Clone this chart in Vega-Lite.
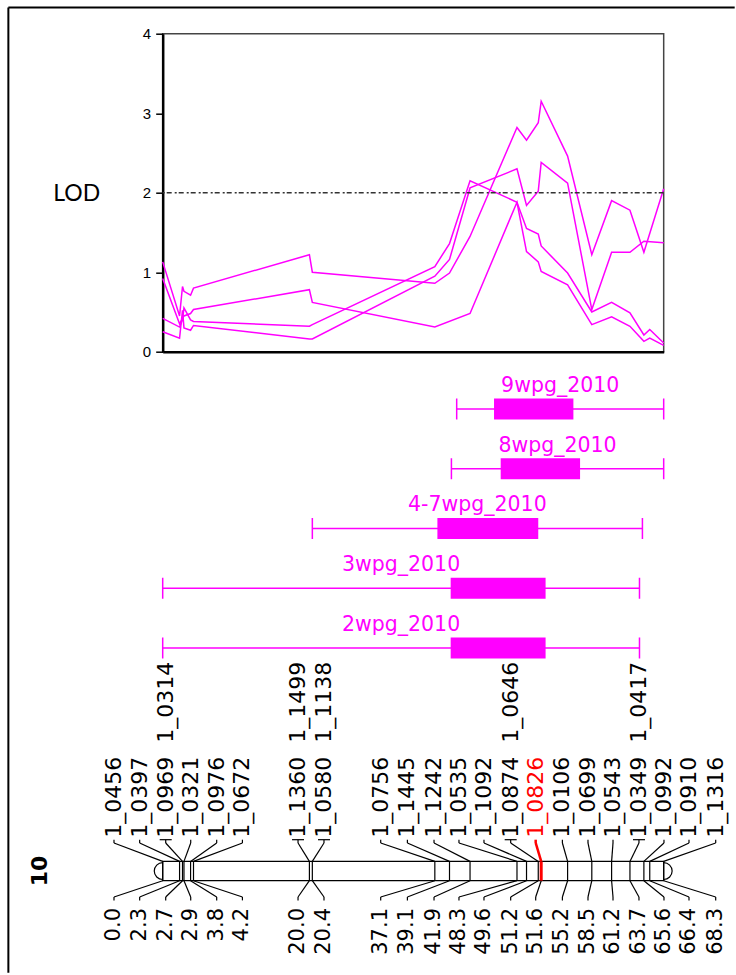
{
  "$schema": "https://vega.github.io/schema/vega-lite/v6.json",
  "padding": {"left": 5.7, "top": 5.7, "right": 0, "bottom": 0},
  "background": "white",
  "bounds": "flush",
  "spacing": 0,
  "config": {"view": {"stroke": null}, "font": "DejaVu Sans"},
  "resolve": {"scale": {"x": "independent", "y": "independent"}},
  "datasets": {
    "lod": [
      {"trait": "9wpg_2010", "pos": 0.0, "lod": 1.13}, {"trait": "9wpg_2010", "pos": 2.3, "lod": 0.45}, {"trait": "9wpg_2010", "pos": 2.7, "lod": 0.82}, {"trait": "9wpg_2010", "pos": 2.9, "lod": 0.76}, {"trait": "9wpg_2010", "pos": 3.8, "lod": 0.71}, {"trait": "9wpg_2010", "pos": 4.2, "lod": 0.80}, {"trait": "9wpg_2010", "pos": 20.0, "lod": 1.22}, {"trait": "9wpg_2010", "pos": 20.4, "lod": 1.00}, {"trait": "9wpg_2010", "pos": 37.1, "lod": 0.86}, {"trait": "9wpg_2010", "pos": 39.1, "lod": 0.99}, {"trait": "9wpg_2010", "pos": 41.9, "lod": 1.45}, {"trait": "9wpg_2010", "pos": 48.3, "lod": 2.82}, {"trait": "9wpg_2010", "pos": 49.6, "lod": 2.66}, {"trait": "9wpg_2010", "pos": 51.2, "lod": 2.88}, {"trait": "9wpg_2010", "pos": 51.6, "lod": 3.15}, {"trait": "9wpg_2010", "pos": 55.2, "lod": 2.46}, {"trait": "9wpg_2010", "pos": 58.5, "lod": 1.22}, {"trait": "9wpg_2010", "pos": 61.2, "lod": 1.90}, {"trait": "9wpg_2010", "pos": 63.7, "lod": 1.78}, {"trait": "9wpg_2010", "pos": 65.6, "lod": 1.25}, {"trait": "9wpg_2010", "pos": 68.3, "lod": 2.05},
      {"trait": "8wpg_2010", "pos": 0.0, "lod": 0.25}, {"trait": "8wpg_2010", "pos": 2.3, "lod": 0.17}, {"trait": "8wpg_2010", "pos": 2.7, "lod": 0.52}, {"trait": "8wpg_2010", "pos": 2.9, "lod": 0.30}, {"trait": "8wpg_2010", "pos": 3.8, "lod": 0.27}, {"trait": "8wpg_2010", "pos": 4.2, "lod": 0.33}, {"trait": "8wpg_2010", "pos": 20.0, "lod": 0.16}, {"trait": "8wpg_2010", "pos": 20.4, "lod": 0.16}, {"trait": "8wpg_2010", "pos": 37.1, "lod": 0.95}, {"trait": "8wpg_2010", "pos": 39.1, "lod": 1.16}, {"trait": "8wpg_2010", "pos": 41.9, "lod": 2.06}, {"trait": "8wpg_2010", "pos": 48.3, "lod": 2.30}, {"trait": "8wpg_2010", "pos": 49.6, "lod": 1.84}, {"trait": "8wpg_2010", "pos": 51.2, "lod": 2.02}, {"trait": "8wpg_2010", "pos": 51.6, "lod": 2.38}, {"trait": "8wpg_2010", "pos": 55.2, "lod": 2.12}, {"trait": "8wpg_2010", "pos": 58.5, "lod": 0.53}, {"trait": "8wpg_2010", "pos": 61.2, "lod": 1.25}, {"trait": "8wpg_2010", "pos": 63.7, "lod": 1.25}, {"trait": "8wpg_2010", "pos": 65.6, "lod": 1.39}, {"trait": "8wpg_2010", "pos": 68.3, "lod": 1.37},
      {"trait": "4-7wpg_2010", "pos": 0.0, "lod": 0.42}, {"trait": "4-7wpg_2010", "pos": 2.3, "lod": 0.31}, {"trait": "4-7wpg_2010", "pos": 2.7, "lod": 0.40}, {"trait": "4-7wpg_2010", "pos": 2.9, "lod": 0.55}, {"trait": "4-7wpg_2010", "pos": 3.8, "lod": 0.40}, {"trait": "4-7wpg_2010", "pos": 4.2, "lod": 0.38}, {"trait": "4-7wpg_2010", "pos": 20.0, "lod": 0.32}, {"trait": "4-7wpg_2010", "pos": 20.4, "lod": 0.34}, {"trait": "4-7wpg_2010", "pos": 37.1, "lod": 1.07}, {"trait": "4-7wpg_2010", "pos": 39.1, "lod": 1.36}, {"trait": "4-7wpg_2010", "pos": 41.9, "lod": 2.15}, {"trait": "4-7wpg_2010", "pos": 48.3, "lod": 1.88}, {"trait": "4-7wpg_2010", "pos": 49.6, "lod": 1.55}, {"trait": "4-7wpg_2010", "pos": 51.2, "lod": 1.48}, {"trait": "4-7wpg_2010", "pos": 51.6, "lod": 1.33}, {"trait": "4-7wpg_2010", "pos": 55.2, "lod": 0.99}, {"trait": "4-7wpg_2010", "pos": 58.5, "lod": 0.50}, {"trait": "4-7wpg_2010", "pos": 61.2, "lod": 0.62}, {"trait": "4-7wpg_2010", "pos": 63.7, "lod": 0.49}, {"trait": "4-7wpg_2010", "pos": 65.6, "lod": 0.21}, {"trait": "4-7wpg_2010", "pos": 66.4, "lod": 0.28}, {"trait": "4-7wpg_2010", "pos": 68.3, "lod": 0.11},
      {"trait": "3wpg_2010", "pos": 0.0, "lod": 0.92}, {"trait": "3wpg_2010", "pos": 2.3, "lod": 0.35}, {"trait": "3wpg_2010", "pos": 2.7, "lod": 0.42}, {"trait": "3wpg_2010", "pos": 2.9, "lod": 0.45}, {"trait": "3wpg_2010", "pos": 3.8, "lod": 0.48}, {"trait": "3wpg_2010", "pos": 4.2, "lod": 0.53}, {"trait": "3wpg_2010", "pos": 20.0, "lod": 0.78}, {"trait": "3wpg_2010", "pos": 20.4, "lod": 0.62}, {"trait": "3wpg_2010", "pos": 37.1, "lod": 0.31}, {"trait": "3wpg_2010", "pos": 41.9, "lod": 0.48}, {"trait": "3wpg_2010", "pos": 48.3, "lod": 1.88}, {"trait": "3wpg_2010", "pos": 49.6, "lod": 1.26}, {"trait": "3wpg_2010", "pos": 51.2, "lod": 1.13}, {"trait": "3wpg_2010", "pos": 51.6, "lod": 1.01}, {"trait": "3wpg_2010", "pos": 55.2, "lod": 0.84}, {"trait": "3wpg_2010", "pos": 58.5, "lod": 0.34}, {"trait": "3wpg_2010", "pos": 61.2, "lod": 0.44}, {"trait": "3wpg_2010", "pos": 63.7, "lod": 0.32}, {"trait": "3wpg_2010", "pos": 65.6, "lod": 0.13}, {"trait": "3wpg_2010", "pos": 66.4, "lod": 0.17}, {"trait": "3wpg_2010", "pos": 68.3, "lod": 0.08}
    ],
    "qtl": [
      {"trait": "9wpg_2010", "lo": 40.08, "blo": 45.17, "bhi": 55.99, "hi": 68.3},
      {"trait": "8wpg_2010", "lo": 39.36, "blo": 46.08, "bhi": 56.9, "hi": 68.3},
      {"trait": "4-7wpg_2010", "lo": 20.4, "blo": 37.45, "bhi": 51.2, "hi": 65.4},
      {"trait": "3wpg_2010", "lo": 0.0, "blo": 39.26, "bhi": 52.2, "hi": 65.0},
      {"trait": "2wpg_2010", "lo": 0.0, "blo": 39.26, "bhi": 52.2, "hi": 65.0}
    ],
    "markers": [
      {"name": "1_0456", "name2": null, "pos": 0.0, "labelAt": -6.64},
      {"name": "1_0397", "name2": null, "pos": 2.3, "labelAt": -3.14},
      {"name": "1_0969", "name2": "1_0314", "pos": 2.7, "labelAt": 0.41},
      {"name": "1_0321", "name2": null, "pos": 2.9, "labelAt": 3.82},
      {"name": "1_0976", "name2": null, "pos": 3.8, "labelAt": 7.36},
      {"name": "1_0672", "name2": null, "pos": 4.2, "labelAt": 10.87},
      {"name": "1_1360", "name2": "1_1499", "pos": 20.0, "labelAt": 18.45},
      {"name": "1_0580", "name2": "1_1138", "pos": 20.4, "labelAt": 21.99},
      {"name": "1_0756", "name2": null, "pos": 37.1, "labelAt": 29.72},
      {"name": "1_1445", "name2": null, "pos": 39.1, "labelAt": 33.36},
      {"name": "1_1242", "name2": null, "pos": 41.9, "labelAt": 36.99},
      {"name": "1_0535", "name2": null, "pos": 48.3, "labelAt": 40.39},
      {"name": "1_1092", "name2": null, "pos": 49.6, "labelAt": 43.80},
      {"name": "1_0874", "name2": "1_0646", "pos": 51.2, "labelAt": 47.44},
      {"name": "1_0826", "name2": null, "pos": 51.6, "labelAt": 50.85},
      {"name": "1_0106", "name2": null, "pos": 55.2, "labelAt": 54.49},
      {"name": "1_0699", "name2": null, "pos": 58.5, "labelAt": 57.98},
      {"name": "1_0543", "name2": null, "pos": 61.2, "labelAt": 61.39},
      {"name": "1_0349", "name2": "1_0417", "pos": 63.7, "labelAt": 64.93},
      {"name": "1_0992", "name2": null, "pos": 65.6, "labelAt": 68.34},
      {"name": "1_0910", "name2": null, "pos": 66.4, "labelAt": 71.75},
      {"name": "1_1316", "name2": null, "pos": 68.3, "labelAt": 75.39}
    ]
  },
  "vconcat": [
    {
      "width": 501,
      "height": 318,
      "view": {"stroke": "#444", "strokeWidth": 1.5},
      "layer": [
        {
          "data": {"name": "lod"},
          "mark": {"type": "line", "color": "#FF00FF", "strokeWidth": 1.5},
          "encoding": {
            "x": {"field": "pos", "type": "quantitative", "scale": {"domain": [0, 68.3], "nice": false, "zero": false},
              "axis": {"labels": false, "ticks": false, "grid": false, "title": null, "domain": true, "domainColor": "black", "domainWidth": 2.5}},
            "y": {"field": "lod", "type": "quantitative", "scale": {"domain": [0, 4], "nice": false, "zero": false},
              "axis": {"values": [0, 1, 2, 3, 4], "format": "d", "grid": false, "title": "LOD", "titleAngle": 0, "titleX": -86.5, "titleY": 160,
                "titleAlign": "center", "titleBaseline": "middle", "titleFont": "Lato", "titleFontSize": 23, "titleFontWeight": "normal", "titleColor": "black",
                "labelFont": "Liberation Sans", "labelFontSize": 15, "labelColor": "black", "labelPadding": 5, "ticks": true, "domain": true,
                "tickSize": 7, "tickWidth": 1.5, "tickColor": "black", "domainColor": "black", "domainWidth": 2.5}},
            "detail": {"field": "trait"}
          }
        },
        {
          "data": {"values": [{}]},
          "mark": {"type": "rule", "color": "#333", "strokeWidth": 1.5, "strokeDash": [5, 2, 2, 3]},
          "encoding": {
            "y": {"datum": 2, "type": "quantitative", "scale": {"domain": [0, 4], "nice": false, "zero": false}}
          }
        },
        {
          "data": {"values": [{}]},
          "mark": {"type": "rule", "color": "black", "strokeWidth": 2},
          "encoding": {
            "x": {"datum": -21.04, "type": "quantitative", "scale": {"domain": [0, 68.3], "nice": false, "zero": false}},
            "y": {"datum": 4.33, "type": "quantitative", "scale": {"domain": [0, 4], "nice": false, "zero": false}},
            "y2": {"datum": -7.811}
          }
        },
        {
          "data": {"values": [{}]},
          "mark": {"type": "rule", "color": "black", "strokeWidth": 2},
          "encoding": {
            "x": {"datum": -21.04, "type": "quantitative", "scale": {"domain": [0, 68.3], "nice": false, "zero": false}},
            "x2": {"datum": 77.98},
            "y": {"datum": 4.33, "type": "quantitative", "scale": {"domain": [0, 4], "nice": false, "zero": false}}
          }
        }
      ]
    },
    {
      "width": 501,
      "height": 312,
      "data": {"name": "qtl"},
      "transform": [{"calculate": "(datum.lo + datum.hi) / 2", "as": "mid"}],
      "encoding": {
        "y": {"field": "trait", "type": "nominal",
          "scale": {"type": "point", "domain": ["9wpg_2010", "8wpg_2010", "4-7wpg_2010", "3wpg_2010", "2wpg_2010"], "range": [57.3, 296.3], "padding": 0},
          "axis": null}
      },
      "layer": [
        {
          "mark": {"type": "rule", "color": "#FF00FF", "strokeWidth": 1.5},
          "encoding": {
            "x": {"field": "lo", "type": "quantitative", "scale": {"domain": [0, 68.3], "nice": false, "zero": false}, "axis": null},
            "x2": {"field": "hi"}
          }
        },
        {
          "mark": {"type": "tick", "orient": "vertical", "color": "#FF00FF", "size": 21, "thickness": 1.5, "opacity": 1},
          "encoding": {
            "x": {"field": "lo", "type": "quantitative", "scale": {"domain": [0, 68.3], "nice": false, "zero": false}, "axis": null}
          }
        },
        {
          "mark": {"type": "tick", "orient": "vertical", "color": "#FF00FF", "size": 21, "thickness": 1.5, "opacity": 1},
          "encoding": {
            "x": {"field": "hi", "type": "quantitative", "scale": {"domain": [0, 68.3], "nice": false, "zero": false}, "axis": null}
          }
        },
        {
          "mark": {"type": "bar", "color": "#FF00FF", "height": 21, "opacity": 1},
          "encoding": {
            "x": {"field": "blo", "type": "quantitative", "scale": {"domain": [0, 68.3], "nice": false, "zero": false}, "axis": null},
            "x2": {"field": "bhi"}
          }
        },
        {
          "mark": {"type": "text", "color": "#FF00FF", "font": "DejaVu Sans", "fontSize": 20.5, "dy": -17, "baseline": "alphabetic", "align": "center"},
          "encoding": {
            "x": {"field": "mid", "type": "quantitative", "scale": {"domain": [0, 68.3], "nice": false, "zero": false}, "axis": null},
            "text": {"field": "trait"}
          }
        }
      ]
    },
    {
      "width": 501,
      "height": 311,
      "data": {"name": "markers"},
      "layer": [
        {
          "data": {"values": [{"end": 0}, {"end": 68.3}]},
          "mark": {"type": "point", "shape": "circle", "filled": true, "fill": "white", "stroke": "black", "strokeWidth": 1.2, "size": 285, "opacity": 1},
          "encoding": {
            "x": {"field": "end", "type": "quantitative", "scale": {"domain": [0, 68.3], "nice": false, "zero": false}, "axis": null},
            "y": {"datum": 0, "type": "quantitative", "scale": {"domain": [-10.74, 21.49], "nice": false, "zero": false}, "axis": null}
          }
        },
        {
          "data": {"values": [{"start": 0, "end": 68.3}]},
          "mark": {"type": "rect", "fill": "white", "stroke": "black", "strokeWidth": 1.2},
          "encoding": {
            "x": {"field": "start", "type": "quantitative", "scale": {"domain": [0, 68.3], "nice": false, "zero": false}, "axis": null},
            "x2": {"field": "end"},
            "y": {"datum": 1, "type": "quantitative", "scale": {"domain": [-10.74, 21.49], "nice": false, "zero": false}, "axis": null},
            "y2": {"datum": -1}
          }
        },
        {
          "mark": {"type": "rule"},
          "encoding": {
            "x": {"field": "pos", "type": "quantitative", "scale": {"domain": [0, 68.3], "nice": false, "zero": false}, "axis": null},
            "y": {"datum": 1, "type": "quantitative", "scale": {"domain": [-10.74, 21.49], "nice": false, "zero": false}, "axis": null},
            "y2": {"datum": -1},
            "color": {"condition": {"test": "datum.name === '1_0826'", "value": "#FF0000"}, "value": "black"},
            "strokeWidth": {"condition": {"test": "datum.name === '1_0826'", "value": 3}, "value": 1.2}
          }
        },
        {
          "mark": {"type": "rule"},
          "encoding": {
            "x": {"field": "pos", "type": "quantitative", "scale": {"domain": [0, 68.3], "nice": false, "zero": false}, "axis": null},
            "x2": {"field": "labelAt"},
            "y": {"datum": 1, "type": "quantitative", "scale": {"domain": [-10.74, 21.49], "nice": false, "zero": false}, "axis": null},
            "y2": {"datum": 2.91},
            "color": {"condition": {"test": "datum.name === '1_0826'", "value": "#FF0000"}, "value": "black"},
            "strokeWidth": {"condition": {"test": "datum.name === '1_0826'", "value": 2.5}, "value": 1.2}
          }
        },
        {
          "mark": {"type": "rule"},
          "encoding": {
            "x": {"field": "labelAt", "type": "quantitative", "scale": {"domain": [0, 68.3], "nice": false, "zero": false}, "axis": null},
            "y": {"datum": 2.91, "type": "quantitative", "scale": {"domain": [-10.74, 21.49], "nice": false, "zero": false}, "axis": null},
            "y2": {"datum": 3.25},
            "color": {"condition": {"test": "datum.name === '1_0826'", "value": "#FF0000"}, "value": "black"},
            "strokeWidth": {"condition": {"test": "datum.name === '1_0826'", "value": 2.5}, "value": 1.2}
          }
        },
        {
          "transform": [{"filter": "isValid(datum.name2)"}],
          "mark": {"type": "tick", "orient": "horizontal", "color": "black", "size": 12, "thickness": 1.2, "opacity": 1},
          "encoding": {
            "x": {"field": "labelAt", "type": "quantitative", "scale": {"domain": [0, 68.3], "nice": false, "zero": false}, "axis": null},
            "y": {"datum": 3.25, "type": "quantitative", "scale": {"domain": [-10.74, 21.49], "nice": false, "zero": false}, "axis": null}
          }
        },
        {
          "mark": {"type": "rule", "color": "black", "strokeWidth": 1.2},
          "encoding": {
            "x": {"field": "pos", "type": "quantitative", "scale": {"domain": [0, 68.3], "nice": false, "zero": false}, "axis": null},
            "x2": {"field": "labelAt"},
            "y": {"datum": -1, "type": "quantitative", "scale": {"domain": [-10.74, 21.49], "nice": false, "zero": false}, "axis": null},
            "y2": {"datum": -2.69}
          }
        },
        {
          "mark": {"type": "rule", "color": "black", "strokeWidth": 1.2},
          "encoding": {
            "x": {"field": "labelAt", "type": "quantitative", "scale": {"domain": [0, 68.3], "nice": false, "zero": false}, "axis": null},
            "y": {"datum": -2.69, "type": "quantitative", "scale": {"domain": [-10.74, 21.49], "nice": false, "zero": false}, "axis": null},
            "y2": {"datum": -3.04}
          }
        },
        {
          "mark": {"type": "text", "font": "DejaVu Sans", "fontSize": 22, "angle": 270, "align": "left", "baseline": "middle"},
          "encoding": {
            "x": {"field": "labelAt", "type": "quantitative", "scale": {"domain": [0, 68.3], "nice": false, "zero": false}, "axis": null},
            "y": {"datum": 3.45, "type": "quantitative", "scale": {"domain": [-10.74, 21.49], "nice": false, "zero": false}, "axis": null},
            "text": {"field": "name"},
            "color": {"condition": {"test": "datum.name === '1_0826'", "value": "#FF0000"}, "value": "black"}
          }
        },
        {
          "transform": [{"filter": "isValid(datum.name2)"}],
          "mark": {"type": "text", "font": "DejaVu Sans", "fontSize": 22, "angle": 270, "align": "left", "baseline": "middle", "color": "black"},
          "encoding": {
            "x": {"field": "labelAt", "type": "quantitative", "scale": {"domain": [0, 68.3], "nice": false, "zero": false}, "axis": null},
            "y": {"datum": 13.3, "type": "quantitative", "scale": {"domain": [-10.74, 21.49], "nice": false, "zero": false}, "axis": null},
            "text": {"field": "name2"}
          }
        },
        {
          "mark": {"type": "text", "font": "DejaVu Sans", "fontSize": 21, "angle": 270, "align": "right", "baseline": "middle", "color": "black"},
          "encoding": {
            "x": {"field": "labelAt", "type": "quantitative", "scale": {"domain": [0, 68.3], "nice": false, "zero": false}, "axis": null},
            "y": {"datum": -3.83, "type": "quantitative", "scale": {"domain": [-10.74, 21.49], "nice": false, "zero": false}, "axis": null},
            "text": {"field": "pos", "type": "quantitative", "format": ".1f"}
          }
        },
        {
          "data": {"values": [{"chromosome": "10"}]},
          "mark": {"type": "text", "font": "DejaVu Sans", "fontSize": 22, "fontWeight": "bold", "angle": 270, "align": "center", "baseline": "middle", "color": "black"},
          "encoding": {
            "x": {"datum": -16.77, "type": "quantitative", "scale": {"domain": [0, 68.3], "nice": false, "zero": false}, "axis": null},
            "y": {"datum": 0, "type": "quantitative", "scale": {"domain": [-10.74, 21.49], "nice": false, "zero": false}, "axis": null},
            "text": {"field": "chromosome"}
          }
        }
      ]
    }
  ]
}
